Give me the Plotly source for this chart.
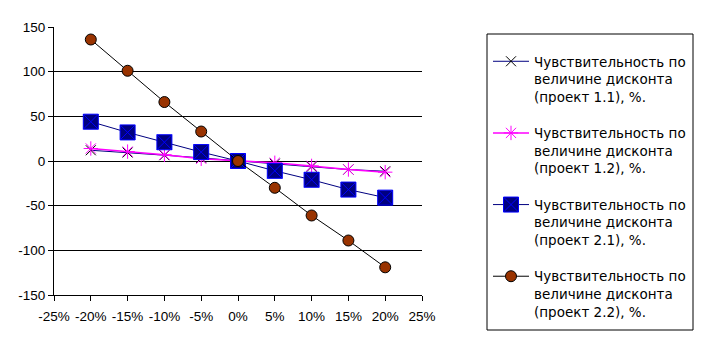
import plotly.graph_objects as go

discount = [-0.20, -0.15, -0.10, -0.05, 0.0, 0.05, 0.10, 0.15, 0.20]
p11 = [12, 9.5, 6.5, 3.5, 0, -3, -6.5, -9.5, -11.5]
p12 = [14, 10.5, 7, 2.5, 0, -2, -5.5, -9.5, -12.5]
p21 = [44, 32, 21, 10, 0, -11, -21, -32, -41]
p22 = [136, 101, 66, 33, 0, -30, -61, -89, -119]

names = [
    "Чувствительность по<br>величине дисконта<br>(проект 1.1), %.",
    "Чувствительность по<br>величине дисконта<br>(проект 1.2), %.",
    "Чувствительность по<br>величине дисконта<br>(проект 2.1), %.",
    "Чувствительность по<br>величине дисконта<br>(проект 2.2), %.",
]

x_tickvals = [-0.25, -0.20, -0.15, -0.10, -0.05, 0.0, 0.05, 0.10, 0.15, 0.20, 0.25]
x_ticktext = ["-25%", "-20%", "-15%", "-10%", "-5%", "0%", "5%", "10%", "15%", "20%", "25%"]
y_tickvals = [-150, -100, -50, 0, 50, 100, 150]
y_ticktext = ["-150", "-100", "-50", "0", "50", "100", "150"]

fig = go.Figure()
fig.add_trace(go.Scatter(
    x=discount, y=p11, name=names[0], mode="lines+markers", legendgroup="a",
    line=dict(color="#000080", width=1),
    marker=dict(symbol="x-thin", size=10, line=dict(color="black", width=1), color="black"),
))
fig.add_trace(go.Scatter(
    x=discount, y=p12, name=names[1], mode="lines+markers", legendgroup="b",
    line=dict(color="#FF00FF", width=1.5),
    marker=dict(symbol="asterisk-open", size=12, line=dict(color="#FF00FF", width=1), color="#FF00FF"),
))
fig.add_trace(go.Scatter(
    x=discount, y=p21, name=names[2], mode="lines+markers", legendgroup="c",
    line=dict(color="#000080", width=1),
    marker=dict(symbol="square-x", size=15, color="#000080", line=dict(color="#0000FF", width=1)),
))
fig.add_trace(go.Scatter(
    x=discount, y=p22, name=names[3], mode="lines+markers", legendgroup="d",
    line=dict(color="black", width=1),
    marker=dict(symbol="circle", size=11, color="#993300", line=dict(color="black", width=1)),
))

fig.update_layout(
    width=702, height=343,
    margin=dict(l=54, r=280, t=27, b=48, autoexpand=False),
    paper_bgcolor="white", plot_bgcolor="white",
    font=dict(family="Liberation Sans, Arial, sans-serif", size=13.5, color="black"),
    showlegend=True,
    legend=dict(
        xref="container", yref="container",
        x=488 / 702, y=1 - 46 / 343, xanchor="left", yanchor="top",
        borderwidth=0, bgcolor="rgba(0,0,0,0)",
        font=dict(family="DejaVu Sans, sans-serif", size=13.5, color="black"),
        valign="top", tracegroupgap=16, itemwidth=36,
        traceorder="grouped", maxheight=400,
    ),
    shapes=[dict(
        type="rect", xref="paper", yref="paper",
        x0=(487 - 54) / 368, x1=(693 - 54) / 368,
        y0=(295 - 330) / 268, y1=(295 - 34) / 268,
        line=dict(color="black", width=1), fillcolor="rgba(0,0,0,0)", layer="above",
    )],
)
fig.update_xaxes(
    range=[-0.25, 0.25], tickvals=x_tickvals, ticktext=x_ticktext,
    showgrid=False, zeroline=False, showline=True, linecolor="black", linewidth=1,
    ticks="outside", ticklen=5, tickcolor="black", ticklabelstandoff=4,
)
fig.update_yaxes(
    range=[-150, 150], tickvals=y_tickvals, ticktext=y_ticktext,
    showgrid=True, gridcolor="black", gridwidth=1, zeroline=False,
    showline=True, linecolor="black", linewidth=1,
    ticks="outside", ticklen=5, tickcolor="black",
)

fig.write_html("out.html")
